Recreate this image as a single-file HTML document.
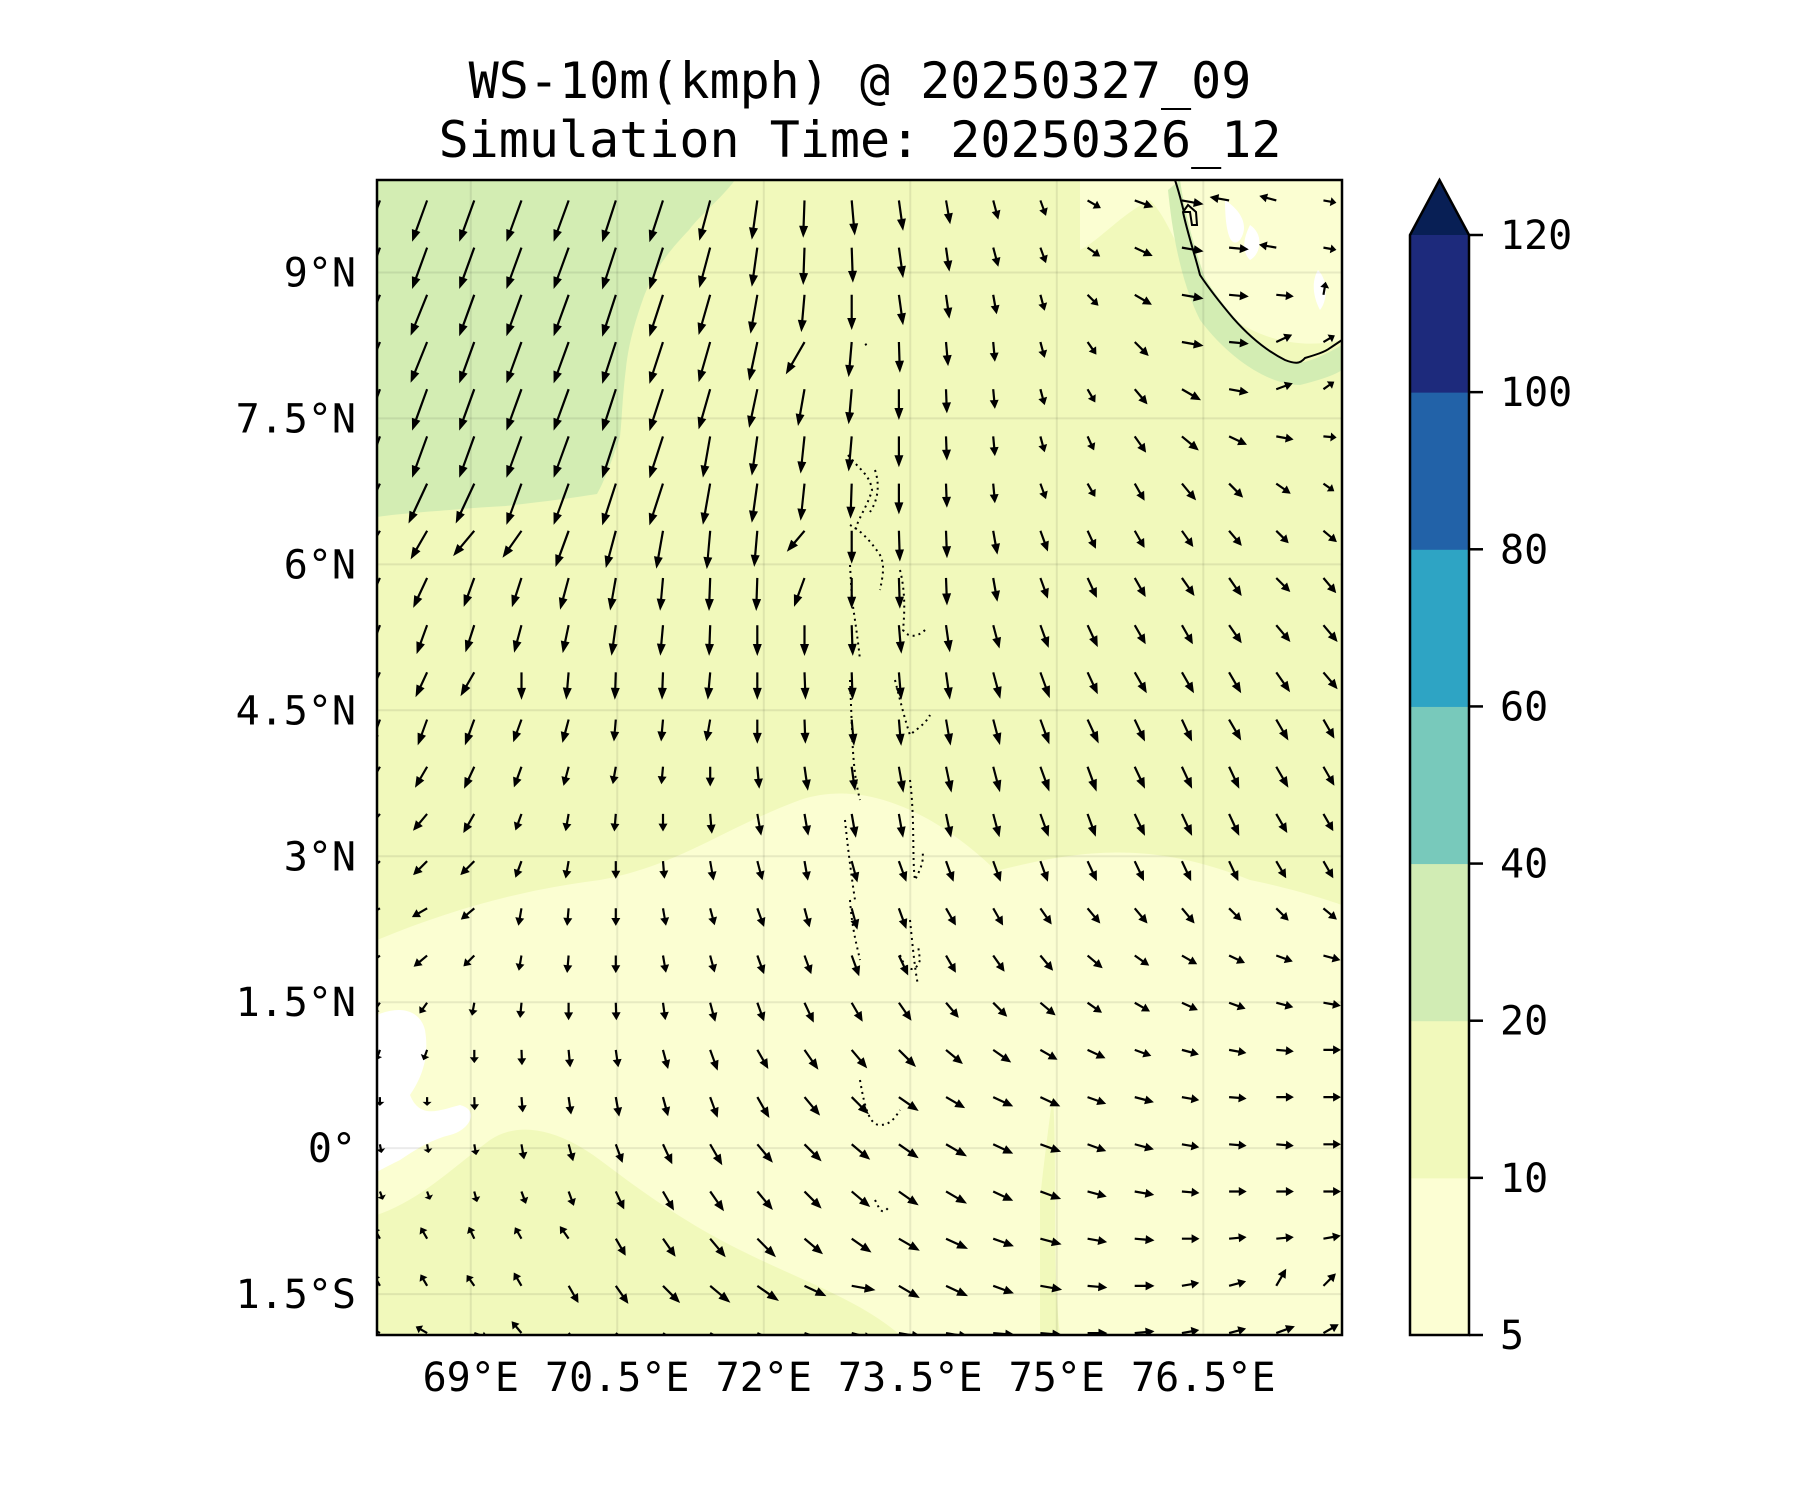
<!DOCTYPE html>
<html><head><meta charset="utf-8"><style>
html,body{margin:0;padding:0;background:#fff;}
svg text{font-family:"DejaVu Sans Mono","Liberation Mono",monospace;fill:#000;}
</style></head><body>
<svg id="chart" width="1800" height="1500" viewBox="0 0 1800 1500" xmlns="http://www.w3.org/2000/svg">
<defs><clipPath id="plotclip"><rect x="377" y="180" width="965" height="1155"/></clipPath></defs>
<g>
<text x="860" y="98" font-size="50" text-anchor="middle">WS-10m(kmph) @ 20250327_09</text>
<text x="860" y="157" font-size="50" text-anchor="middle">Simulation Time: 20250326_12</text>
</g>
<g clip-path="url(#plotclip)">
<rect x="377" y="180" width="965" height="1155" fill="#f1f9bb"/>
<path fill="#fbfed2" d="M377,940 C450,910 520,890 600,880 C680,865 720,830 800,800 C860,780 920,810 960,840 C1000,870 1040,910 1055,980 C1065,1040 1050,1100 1040,1200 L1040,1335 L900,1335 C860,1300 800,1280 740,1250 C680,1220 640,1190 600,1160 C560,1130 520,1120 490,1140 C450,1170 420,1200 377,1215 Z"/>
<path fill="#fbfed2" d="M1000,870 C1080,850 1150,840 1250,880 C1300,890 1342,905 1342,905 L1342,1335 L1060,1335 C1050,1250 1060,1150 1050,1060 C1040,980 1010,920 1000,870 Z"/>
<path fill="#fbfed2" d="M1080,180 L1342,180 L1342,340 C1300,350 1250,340 1210,300 C1180,260 1170,220 1150,200 C1120,215 1100,240 1080,250 Z"/>
<path fill="#d3edb3" d="M377,180 L735,180 C720,200 700,215 689,230 C660,260 650,280 643,299 C632,330 628,350 626,368 C622,400 622,420 620,437 C612,460 605,480 597,494 C560,500 530,503 506,506 C470,508 450,510 437,511 C410,513 390,515 377,517 Z"/>
<path fill="#d3edb3" d="M1168,190 C1172,230 1180,280 1200,320 C1230,360 1270,385 1300,385 C1320,380 1335,375 1342,370 L1342,345 C1320,358 1300,366 1290,362 C1255,345 1225,310 1205,278 C1195,250 1185,215 1180,180 Z"/>
<path fill="#ffffff" d="M377,1015 C400,1005 420,1010 425,1030 C430,1060 420,1080 410,1095 C420,1120 440,1110 460,1105 C480,1110 470,1130 450,1135 C430,1140 415,1150 400,1160 C390,1165 380,1170 377,1172 Z"/>
<path fill="#ffffff" d="M1225,200 C1240,210 1250,225 1240,240 C1230,250 1225,230 1225,200 Z M1250,225 C1265,235 1260,255 1250,260 C1240,250 1245,235 1250,225 Z M1318,270 C1328,280 1328,300 1320,310 C1312,295 1312,280 1318,270 Z"/>
<g stroke="#000" stroke-opacity="0.08" stroke-width="2" id="grid"></g>
<path fill="none" stroke="#000" stroke-width="2" d="M1175,180 C1180,195 1182,205 1184,212 L1190,212 L1192,225 L1197,225 L1196,212 L1188,205 L1183,212 C1188,235 1195,255 1200,275 C1210,290 1222,305 1233,318 C1248,335 1265,350 1285,360 C1295,364 1300,364 1305,358 C1315,355 1325,352 1330,348 L1342,340"/>
<g fill="none" stroke="#000" stroke-width="2" stroke-dasharray="2 4">
<path d="M848,455 C860,470 870,475 872,490 C868,505 860,515 855,530"/>
<path d="M875,470 C880,485 878,500 870,512"/>
<path d="M850,525 C860,530 870,540 880,555 C885,565 883,575 880,590"/>
<path d="M850,565 L852,600 C855,620 858,640 860,660"/>
<path d="M900,570 C905,590 905,610 903,630 C910,640 920,635 925,630"/>
<path d="M895,680 C900,700 905,720 910,735 C915,730 925,725 930,715"/>
<path d="M850,680 L852,730 C853,760 855,780 860,800"/>
<path d="M845,820 C848,850 852,880 855,900"/>
<path d="M910,780 C915,820 912,860 915,880 C920,870 925,860 922,850"/>
<path d="M850,900 C852,930 858,950 860,960"/>
<path d="M910,920 C913,950 915,970 918,985"/>
<path d="M900,955 C905,970 915,975 920,960 L918,945"/>
<path d="M860,1080 C865,1110 870,1125 880,1125 C890,1125 895,1118 900,1110"/>
<path d="M875,1200 C880,1210 882,1215 888,1208"/>
<path d="M865,345 L870,342"/>
</g>
<g id="arrows"></g>
</g>
<rect x="377" y="180" width="965" height="1155" fill="none" stroke="#000" stroke-width="2.5"/>
<g id="ylabels" font-size="40" text-anchor="end"></g>
<g id="xlabels" font-size="40" text-anchor="middle"></g>
<g id="colorbar"></g>
</svg>
<script>
// map axes
const latTicks = [9, 7.5, 6, 4.5, 3, 1.5, 0, -1.5];
const latTickLabels = ["9°N", "7.5°N", "6°N", "4.5°N", "3°N", "1.5°N", "0°", "1.5°S"];
const lonTicks = [69, 70.5, 72, 73.5, 75, 76.5];
const lonTickLabels = ["69°E", "70.5°E", "72°E", "73.5°E", "75°E", "76.5°E"];
// colorbar
const cbLevels = [5, 10, 20, 40, 60, 80, 100, 120];
const cbColors = ["#fcfed3", "#f1f9bb", "#d1ecb4", "#78c9bb", "#2ea4c4", "#2262a8", "#1d2a7c"];
const cbOverColor = "#081f55";
// wind grid: bearing (deg, arrow direction, 0=N, 90=E) and length per row (north to south)
const gridLon0 = 68.07, gridDLon = 0.483;
const gridLat0 = 9.74, gridDLat = 0.485;
const windDir = [
[200,200,200,200,200,198,198,195,188,182,175,172,170,165,160,120,110,100,280,285,100],
[200,200,200,200,200,198,198,195,188,182,178,172,172,165,160,125,115,100,95,280,100],
[202,202,200,200,200,198,198,196,190,185,180,172,172,170,165,135,120,100,95,95,10],
[202,202,200,200,200,198,198,196,192,210,185,178,175,175,165,145,135,100,95,65,60],
[200,200,200,200,200,198,198,196,192,190,185,180,178,175,165,150,140,120,100,70,55],
[200,200,200,200,200,198,198,190,188,186,185,180,178,175,165,155,145,130,115,100,95],
[205,205,205,200,200,198,198,190,188,186,182,180,178,175,160,150,150,140,135,125,125],
[210,210,220,215,200,195,190,185,185,220,180,178,178,170,160,155,150,145,140,135,130],
[205,205,200,198,195,190,185,182,182,200,180,178,178,170,160,155,150,145,145,135,140],
[200,200,198,195,192,188,185,182,180,180,178,175,172,165,160,155,150,150,145,140,140],
[205,205,210,180,185,182,182,185,180,178,178,175,172,165,160,155,150,150,150,145,140],
[200,200,200,200,195,185,185,190,180,178,175,175,170,165,160,155,155,155,150,150,150],
[210,210,205,200,195,190,185,180,175,172,172,170,168,165,160,160,155,155,155,150,150],
[220,220,210,200,190,185,180,175,170,170,170,170,168,165,160,160,155,155,155,150,150],
[225,225,225,200,190,180,175,170,165,170,165,160,160,160,160,155,155,155,155,150,150],
[240,240,230,190,185,180,170,165,160,165,165,160,150,150,145,140,140,140,135,135,130],
[230,230,225,190,185,180,170,165,160,160,160,155,150,145,140,130,125,120,115,110,105],
[215,215,190,185,180,178,172,165,160,155,150,145,140,135,130,125,120,115,110,105,100],
[200,200,180,178,175,172,165,160,150,145,140,135,130,125,120,115,110,105,100,95,90],
[180,180,178,175,172,170,165,160,150,140,135,125,120,115,115,110,105,100,95,90,90],
[170,170,170,170,165,160,155,150,140,135,130,125,120,115,110,110,105,100,95,95,90],
[160,160,165,160,160,155,150,145,140,135,130,125,120,115,110,105,100,95,90,90,90],
[330,330,335,330,325,150,145,140,135,130,125,120,115,110,105,100,95,90,85,85,80],
[330,330,325,330,150,145,135,130,125,115,100,120,115,110,100,95,90,80,75,30,45],
[300,300,110,320,140,130,125,120,115,110,105,100,100,95,95,90,85,80,75,70,60]
];
const windLen = [
[40,40,40,40,40,40,40,38,36,34,32,28,22,18,15,14,18,20,18,16,12],
[40,40,40,40,40,40,40,38,36,34,32,28,22,18,15,14,18,20,18,16,12],
[40,40,40,40,40,40,40,38,36,34,32,28,22,18,15,14,18,20,18,16,12],
[40,40,40,40,40,40,40,38,36,34,32,28,22,18,15,14,18,20,18,16,12],
[40,40,40,40,40,40,40,38,36,34,32,28,22,18,15,14,18,20,18,16,12],
[40,40,40,40,40,40,40,38,36,34,32,28,22,18,15,14,18,20,18,16,12],
[40,40,40,40,40,40,40,38,36,34,32,28,22,18,15,14,18,20,18,16,12],
[30,30,30,30,35,35,35,35,33,25,30,28,25,22,20,18,18,18,18,16,16],
[30,30,28,28,30,30,30,30,30,28,28,28,25,22,20,20,20,20,20,18,18],
[28,28,26,26,26,28,28,28,28,28,28,26,25,22,22,22,20,20,20,20,20],
[25,25,25,25,25,25,25,25,25,25,25,25,25,25,25,22,22,22,22,22,20],
[25,25,25,22,22,20,20,20,22,22,24,24,24,24,24,24,22,22,22,22,20],
[22,22,22,20,18,16,16,18,20,22,22,24,24,24,24,24,22,22,22,22,20],
[20,20,20,16,16,16,16,18,20,20,22,22,22,22,22,22,22,22,22,20,18],
[18,18,18,16,16,16,16,18,18,18,20,20,20,20,20,20,20,20,20,18,18],
[16,16,16,16,16,16,16,16,18,18,20,20,18,18,18,18,18,18,16,16,16],
[16,16,14,14,16,16,16,16,18,18,20,20,18,18,18,18,16,16,16,16,16],
[12,12,12,14,16,16,16,18,18,20,20,20,18,18,18,16,16,16,16,16,16],
[10,10,12,14,16,16,18,20,20,22,22,22,20,20,18,18,16,16,16,16,16],
[8,8,12,14,16,18,18,20,22,22,22,22,20,20,20,18,18,16,16,16,16],
[8,8,10,14,16,18,20,22,22,22,22,22,22,20,20,18,18,16,16,16,16],
[8,8,10,12,14,18,20,22,22,22,22,22,22,20,20,18,18,16,16,16,16],
[12,12,12,12,14,18,20,22,24,22,22,22,22,20,20,18,18,16,16,16,16],
[12,12,12,14,18,20,22,24,24,22,22,22,22,20,20,18,18,16,16,18,16],
[12,12,14,14,18,20,22,24,24,24,22,22,22,20,20,18,18,16,16,18,16]
];

const NS = "http://www.w3.org/2000/svg";
const X0 = 377, X1 = 1342, Y0 = 180, Y1 = 1335;
const lonMin = 68.04, lonMax = 77.92, latMin = -1.92, latMax = 9.95;
function xScale(lon){ return X0 + (lon - lonMin) / (lonMax - lonMin) * (X1 - X0); }
function yScale(lat){ return Y1 - (lat - latMin) / (latMax - latMin) * (Y1 - Y0); }
function mk(tag, attrs){ const e = document.createElementNS(NS, tag); for (const k in attrs) e.setAttribute(k, attrs[k]); return e; }

const grid = document.getElementById('grid');
latTicks.forEach(function(lat){
  const l = mk('line', {x1: X0, x2: X1, y1: yScale(lat), y2: yScale(lat)});
  
  
  grid.appendChild(l);
});
lonTicks.forEach(function(lon){
  const l = mk('line', {x1: xScale(lon), x2: xScale(lon), y1: Y0, y2: Y1});
  
  
  grid.appendChild(l);
});

const yl = document.getElementById('ylabels');
latTicks.forEach(function(lat, i){
  const t = mk('text', {x: 356, y: yScale(lat) + 14});
  t.textContent = latTickLabels[i];
  
  
  yl.appendChild(t);
});
const xl = document.getElementById('xlabels');
lonTicks.forEach(function(lon, i){
  const t = mk('text', {x: xScale(lon), y: 1391});
  t.textContent = lonTickLabels[i];
  
  
  xl.appendChild(t);
});

// arrows
const ag = document.getElementById('arrows');
const lenScale = 1.1;
windDir.forEach(function(row, r){
  row.forEach(function(dir, c){
    const L = windLen[r][c] * lenScale;
    const x = xScale(gridLon0 + c * gridDLon), y = yScale(gridLat0 - r * gridDLat);
    const a = dir * Math.PI / 180;
    const ux = Math.sin(a), uy = -Math.cos(a);
    const px = -uy, py = ux;
    const hl = Math.min(12, L * 0.45), hw = 4.5, sw = 1.1;
    const bx = x + ux * (L - hl), by = y + uy * (L - hl);
    const tx = x + ux * L, ty = y + uy * L;
    const pts = [
      [x + px*sw, y + py*sw], [bx + px*sw, by + py*sw], [bx + px*hw, by + py*hw],
      [tx, ty], [bx - px*hw, by - py*hw], [bx - px*sw, by - py*sw], [x - px*sw, y - py*sw]
    ].map(function(p){ return p[0].toFixed(1) + ',' + p[1].toFixed(1); }).join(' ');
    const p = mk('polygon', {points: pts, fill: '#000'});
    
    
    ag.appendChild(p);
  });
});

// colorbar
const cb = document.getElementById('colorbar');
const CBX = 1410, CBW = 59, CBT = 235, CBB = 1335;
const seg = (CBB - CBT) / (cbLevels.length - 1);
function cbY(i){ return CBB - i * seg; }
cbColors.forEach(function(col, i){
  const rct = mk('rect', {x: CBX, y: cbY(i + 1), width: CBW, height: seg + 0.5, fill: col});
  
  
  cb.appendChild(rct);
});
const tri = mk('polygon', {points: CBX + ',' + CBT + ' ' + (CBX + CBW/2) + ',180 ' + (CBX + CBW) + ',' + CBT, fill: cbOverColor});


cb.appendChild(tri);
const outline = mk('path', {d: 'M' + CBX + ',' + CBB + ' L' + CBX + ',' + CBT + ' L' + (CBX + CBW/2) + ',180 L' + (CBX + CBW) + ',' + CBT + ' L' + (CBX + CBW) + ',' + CBB + ' Z', fill: 'none', stroke: '#000', 'stroke-width': 2.5});


cb.appendChild(outline);
cbLevels.forEach(function(v, i){
  const tk = mk('line', {x1: CBX + CBW, x2: CBX + CBW + 14, y1: cbY(i), y2: cbY(i), stroke: '#000', 'stroke-width': 2.5});
  
  
  cb.appendChild(tk);
  const t = mk('text', {x: 1500, y: cbY(i) + 14, 'font-size': 40});
  t.textContent = String(v);
  
  
  cb.appendChild(t);
});
</script>
</body></html>
